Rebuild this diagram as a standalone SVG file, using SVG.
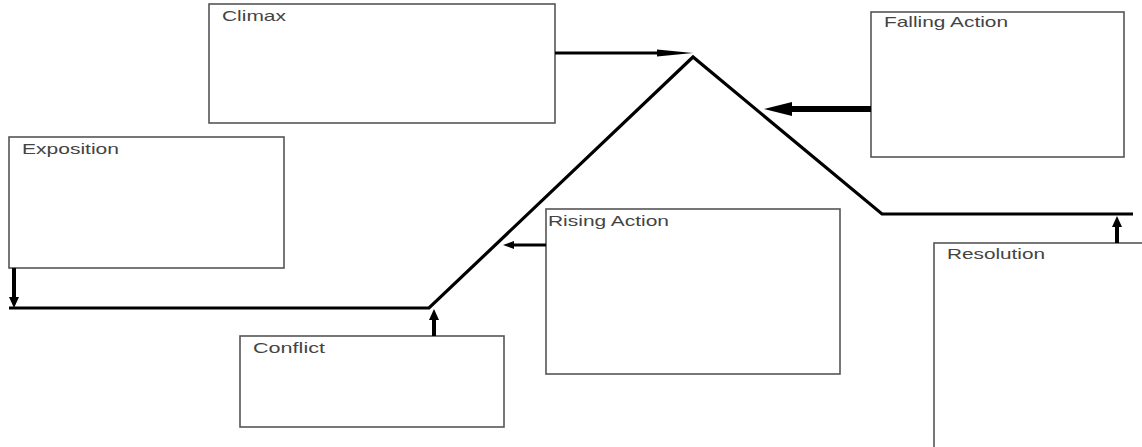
<svg xmlns="http://www.w3.org/2000/svg" width="1142" height="447" viewBox="0 0 1142 447">
<style>
.box{fill:#fff;stroke:#555;stroke-width:1.6}
.lbl{font-family:"Liberation Sans",Arial,sans-serif;font-size:15px;fill:#444}
.plot{fill:none;stroke:#000;stroke-width:3.2;stroke-linejoin:miter}
.sh{stroke:#000;fill:none}
.hd{fill:#000}
</style>
<rect width="1142" height="447" fill="#fff"/>
<g id="climax"><rect class="box" x="209" y="4" width="346" height="119"/><text class="lbl" x="222" y="21" textLength="64" lengthAdjust="spacingAndGlyphs">Climax</text></g>
<g id="falling-action"><rect class="box" x="871" y="12" width="253" height="145"/><text class="lbl" x="884" y="27" textLength="124" lengthAdjust="spacingAndGlyphs">Falling Action</text></g>
<g id="exposition"><rect class="box" x="9" y="137" width="275" height="131"/><text class="lbl" x="22" y="154" textLength="97" lengthAdjust="spacingAndGlyphs">Exposition</text></g>
<g id="rising-action"><rect class="box" x="546" y="209" width="294" height="165"/><text class="lbl" x="548" y="226" textLength="121" lengthAdjust="spacingAndGlyphs">Rising Action</text></g>
<g id="conflict"><rect class="box" x="240" y="336" width="264" height="91"/><text class="lbl" x="253" y="353" textLength="72" lengthAdjust="spacingAndGlyphs">Conflict</text></g>
<g id="resolution"><rect class="box" x="934" y="243" width="220" height="220"/><text class="lbl" x="947" y="259" textLength="98" lengthAdjust="spacingAndGlyphs">Resolution</text></g>
<g id="connectors">
<polyline class="plot" points="9,308 429,308 693,57 882,214 1133,214"/>
<line class="sh" stroke-width="3" x1="555" y1="53" x2="660" y2="53"/><polygon class="hd" points="657,49.5 693,53 657,56.5"/>
<line class="sh" stroke-width="6" x1="871" y1="109" x2="790" y2="109"/><polygon class="hd" points="792,102 764,109 792,116"/>
<line class="sh" stroke-width="3" x1="546" y1="245" x2="510" y2="245"/><polygon class="hd" points="514,241 503,245 514,249"/>
<line class="sh" stroke-width="4" x1="14" y1="268" x2="14" y2="298"/><polygon class="hd" points="9,297 14,308 19,297"/>
<line class="sh" stroke-width="4" x1="434" y1="336" x2="434" y2="318"/><polygon class="hd" points="429,320 434,309 439,320"/>
<line class="sh" stroke-width="4" x1="1117" y1="243" x2="1117" y2="225"/><polygon class="hd" points="1112,227 1117,216 1122,227"/>
</g>
</svg>
